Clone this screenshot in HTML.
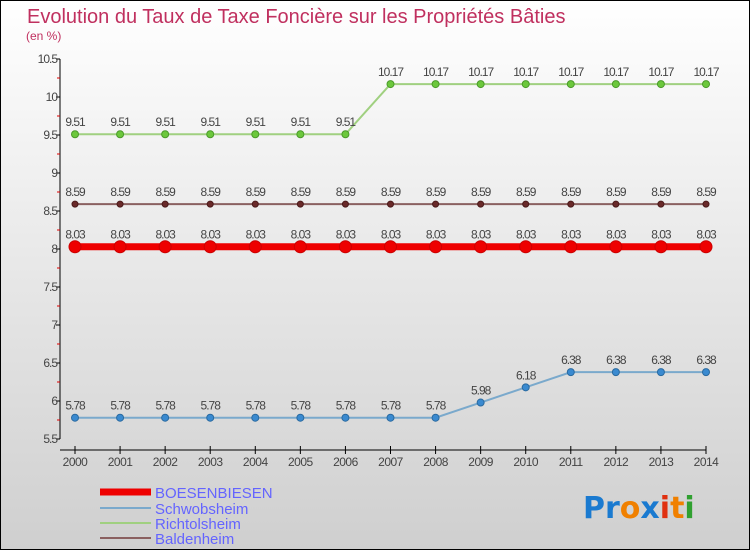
<!DOCTYPE html>
<html><head><meta charset="utf-8"><style>
body{margin:0}
#c{width:750px;height:550px;position:relative;font-family:"Liberation Sans",sans-serif}
</style></head><body>
<div id="c">
<svg id="s" width="750" height="550" xmlns="http://www.w3.org/2000/svg">
<defs><linearGradient id="bg" x1="0" y1="0" x2="0" y2="1"><stop offset="0" stop-color="#ffffff"/><stop offset="1" stop-color="#cfcfcf"/></linearGradient></defs>
<rect x="0.5" y="0.5" width="749" height="549" fill="url(#bg)" stroke="#000"/>
<text x="27" y="23" font-size="20" fill="#c0305f">Evolution du Taux de Taxe Foncière sur les Propriétés Bâties</text>
<text x="26" y="40" font-size="12" fill="#c0305f">(en %)</text>
<g id="axes"></g><g id="series"></g>
<g>
<line x1="100" y1="492" x2="151" y2="492" stroke="#ee0000" stroke-width="7"/>
<text x="155" y="498" font-size="15" fill="#6464ff">BOESENBIESEN</text>
<line x1="100" y1="508" x2="151" y2="508" stroke="#7aa9cc" stroke-width="2"/>
<text x="155" y="514" font-size="15" fill="#6464ff">Schwobsheim</text>
<line x1="100" y1="523" x2="151" y2="523" stroke="#a0d080" stroke-width="2"/>
<text x="155" y="529" font-size="15" fill="#6464ff">Richtolsheim</text>
<line x1="100" y1="538" x2="151" y2="538" stroke="#8a6060" stroke-width="2"/>
<text x="155" y="544" font-size="15" fill="#6464ff">Baldenheim</text>
</g>
<text x="583" y="518" font-size="30" font-weight="bold" font-family="'DejaVu Sans',sans-serif"><tspan fill="#1a7ad0">Pr</tspan><tspan fill="#f08000">o</tspan><tspan fill="#1a7ad0">x</tspan><tspan fill="#e03010">i</tspan><tspan fill="#f08000">t</tspan><tspan fill="#30a030">i</tspan></text>
</svg></div>
<script>
const years=["2000","2001","2002","2003","2004","2005","2006","2007","2008","2009","2010","2011","2012","2013","2014"];
const yTicks=[5.5,6,6.5,7,7.5,8,8.5,9,9.5,10,10.5];
const boesenbiesen=[8.03,8.03,8.03,8.03,8.03,8.03,8.03,8.03,8.03,8.03,8.03,8.03,8.03,8.03,8.03];
const schwobsheim=[5.78,5.78,5.78,5.78,5.78,5.78,5.78,5.78,5.78,5.98,6.18,6.38,6.38,6.38,6.38];
const richtolsheim=[9.51,9.51,9.51,9.51,9.51,9.51,9.51,10.17,10.17,10.17,10.17,10.17,10.17,10.17,10.17];
const baldenheim=[8.59,8.59,8.59,8.59,8.59,8.59,8.59,8.59,8.59,8.59,8.59,8.59,8.59,8.59,8.59];
const NS="http://www.w3.org/2000/svg";
const X=i=>75+i*(706-75)/(years.length-1);
const Y=v=>439-(v-5.5)*76;
function mk(t,a,p){const e=document.createElementNS(NS,t);for(const k in a)e.setAttribute(k,a[k]);p.appendChild(e);return e;}
const ax=document.getElementById('axes');
const yl=mk('line',{x1:60,y1:Y(10.5),x2:60,y2:Y(5.5),stroke:'#000'},ax);


yTicks.forEach((v,i)=>{
 const t=mk('line',{x1:56,y1:Y(v),x2:60,y2:Y(v),stroke:'#000'},ax);
 
 
 if(i<yTicks.length-1){const m=mk('line',{x1:57,y1:Y(v+0.25),x2:60,y2:Y(v+0.25),stroke:'#d00'},ax);
 
 }
 const l=mk('text',{x:57,y:Y(v)+4,'font-size':12,fill:'#444','text-anchor':'end','letter-spacing':'-1'},ax);
 
 
 l.textContent=String(v);
});
const xl=mk('line',{x1:60,y1:450,x2:X(years.length-1),y2:450,stroke:'#000'},ax);


years.forEach((yr,i)=>{
 const t=mk('line',{x1:X(i),y1:446,x2:X(i),y2:454,stroke:'#000'},ax);
 
 
 const l=mk('text',{x:X(i),y:466,'font-size':12,fill:'#444','text-anchor':'middle','letter-spacing':'-0.5'},ax);
 
 
 l.textContent=yr;
});
const sg=document.getElementById('series');
function draw(name,vals,color,w,r,fill,stroke){
 const g=mk('g',{},sg);
 
 
 const p=mk('polyline',{points:vals.map((v,i)=>X(i)+','+Y(v)).join(' '),fill:'none',stroke:color,'stroke-width':w},g);
 
 
 vals.forEach((v,i)=>{
  const c=mk('circle',{cx:X(i),cy:Y(v),r:r,fill:fill,stroke:stroke,'stroke-width':1},g);
  
  
  const l=mk('text',{x:X(i),y:Y(v)-8,'font-size':12,fill:'#444','text-anchor':'middle','letter-spacing':'-1'},g);
  
  
  l.textContent=String(v);
 });
}
draw('richtolsheim',richtolsheim,'#a0d080',2,3.5,'#6cc83c','#4a9a2a');
draw('baldenheim',baldenheim,'#8a6060',2,3,'#6a2a2a','#4a1a1a');
draw('boesenbiesen',boesenbiesen,'#ee0000',7,6,'#ee0000','#cc0000');
draw('schwobsheim',schwobsheim,'#7aa9cc',2,3.5,'#3a8ad0','#2a6aa0');
</script>
</body></html>
